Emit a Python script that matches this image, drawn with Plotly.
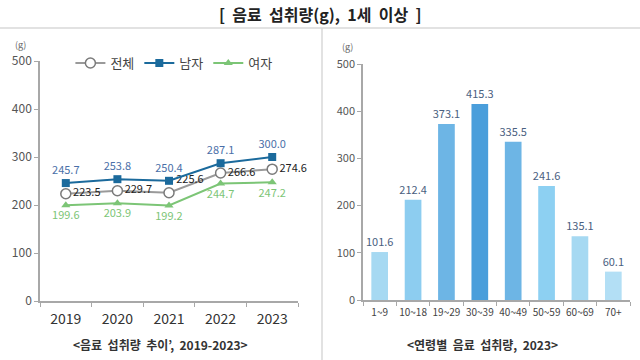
import plotly.graph_objects as go

years = ["2019", "2020", "2021", "2022", "2023"]
total = [223.5, 229.7, 225.6, 266.6, 274.6]
male = [245.7, 253.8, 250.4, 287.1, 300.0]
female = [199.6, 203.9, 199.2, 244.7, 247.2]

ages = ["1~9", "10~18", "19~29", "30~39", "40~49", "50~59", "60~69", "70+"]
age_vals = [101.6, 212.4, 373.1, 415.3, 335.5, 241.6, 135.1, 60.1]
bar_colors = ["#a6d9f2", "#8dcdf0", "#6db5e5", "#4a9edb", "#6db5e5", "#8dd0f2", "#a6d9f2", "#b3dff5"]

FONT = "Noto Sans CJK KR"
fig = go.Figure()

fig.add_trace(go.Scatter(
    x=years, y=total, name="전체", mode="lines+markers+text",
    line=dict(color="#9a9a9a", width=2),
    marker=dict(symbol="circle", size=10, color="white", line=dict(color="#7a7a7a", width=1.5)),
    text=[f"{v:.1f}" for v in total],
    textposition=["middle right", "middle right", "top right", "middle right", "middle right"],
    textfont=dict(color="#222222", size=11, family=FONT),
    xaxis="x", yaxis="y", cliponaxis=False))
fig.add_trace(go.Scatter(
    x=years, y=male, name="남자", mode="lines+markers+text",
    line=dict(color="#1b6a9c", width=2),
    marker=dict(symbol="square", size=8, color="#1b6a9c"),
    text=[f"{v:.1f}" for v in male], textposition="top center",
    textfont=dict(color="#4a6fa8", size=11, family=FONT),
    xaxis="x", yaxis="y", cliponaxis=False))
fig.add_trace(go.Scatter(
    x=years, y=female, name="여자", mode="lines+markers+text",
    line=dict(color="#7cc576", width=2),
    marker=dict(symbol="triangle-up", size=8, color="#7cc576"),
    text=[f"{v:.1f}" for v in female], textposition="bottom center",
    textfont=dict(color="#7cc576", size=11, family=FONT),
    xaxis="x", yaxis="y", cliponaxis=False))

fig.add_trace(go.Bar(
    x=ages, y=age_vals, marker=dict(color=bar_colors, line=dict(width=0)),
    width=0.5, text=[f"{v:.1f}" for v in age_vals], textposition="outside",
    constraintext="none",
    textfont=dict(color="#4a6080", size=11, family=FONT),
    showlegend=False, xaxis="x2", yaxis="y2", cliponaxis=False))

axis_common = dict(showgrid=False, zeroline=False, showline=True, linecolor="#a8a8a8",
                   linewidth=1.5, ticks="outside", tickcolor="#a8a8a8", ticklen=4)

fig.update_layout(
    width=640, height=360, margin=dict(l=0, r=0, t=0, b=0, autoexpand=False),
    paper_bgcolor="white", plot_bgcolor="white",
    font=dict(family=FONT, color="#444444"),
    showlegend=True,
    legend=dict(orientation="h", x=0.11, y=1-63/360, xanchor="left", yanchor="middle",
                font=dict(size=13, color="#444444", family=FONT), bgcolor="rgba(0,0,0,0)",
                tracegroupgap=0),
    xaxis=dict(domain=[40/640, 298/640], type="category", range=[-0.5, 4.5], anchor="y",
               tickson="boundaries", tickangle=0, ticklabelstandoff=4,
               tickfont=dict(size=14, color="#333333"), **axis_common),
    yaxis=dict(domain=[1-301/360, 1-61/360], range=[0, 500], dtick=100, anchor="x",
               tickfont=dict(size=12, color="#555555"), **axis_common),
    xaxis2=dict(domain=[363/640, 630/640], type="category", range=[-0.5, 7.5], anchor="y2",
                tickson="boundaries", tickangle=0, ticklabelstandoff=2,
                tickfont=dict(size=10, color="#444444"), **axis_common),
    yaxis2=dict(domain=[1-300/360, 1-64/360], range=[0, 500], dtick=100, anchor="x2",
                tickfont=dict(size=11, color="#555555"), **axis_common),
)

def note(text, x, y, size, color):
    fig.add_annotation(text=text, x=x/640, y=1-y/360, xref="paper", yref="paper",
                       xanchor="center", yanchor="middle", showarrow=False,
                       font=dict(size=size, color=color))

S = "&nbsp;&nbsp;"
note(f"<b>[&nbsp;&nbsp;음료{S}섭취량(g),{S}1세{S}이상&nbsp;&nbsp;]</b>", 320, 14, 16, "#222222")
note("(g)", 20, 44, 9, "#666666")
note("(g)", 347, 46, 9, "#666666")
note(f"<b>&lt;음료{S}섭취량{S}추이’,{S}2019-2023&gt;</b>", 160, 344, 12, "#333333")
note(f"<b>&lt;연령별{S}음료{S}섭취량,{S}2023&gt;</b>", 482, 344, 12, "#333333")

fig.add_shape(type="line", xref="paper", yref="paper", x0=0, x1=1, y0=1-28/360, y1=1-28/360,
              line=dict(color="#d8d8d8", width=1.5))
fig.add_shape(type="line", xref="paper", yref="paper", x0=322/640, x1=322/640, y0=0, y1=1-28/360,
              line=dict(color="#d8d8d8", width=1.5))

fig.write_html("out.html", config={"displayModeBar": False},
               post_script="document.body.style.margin='0';document.body.style.overflow='hidden';")
